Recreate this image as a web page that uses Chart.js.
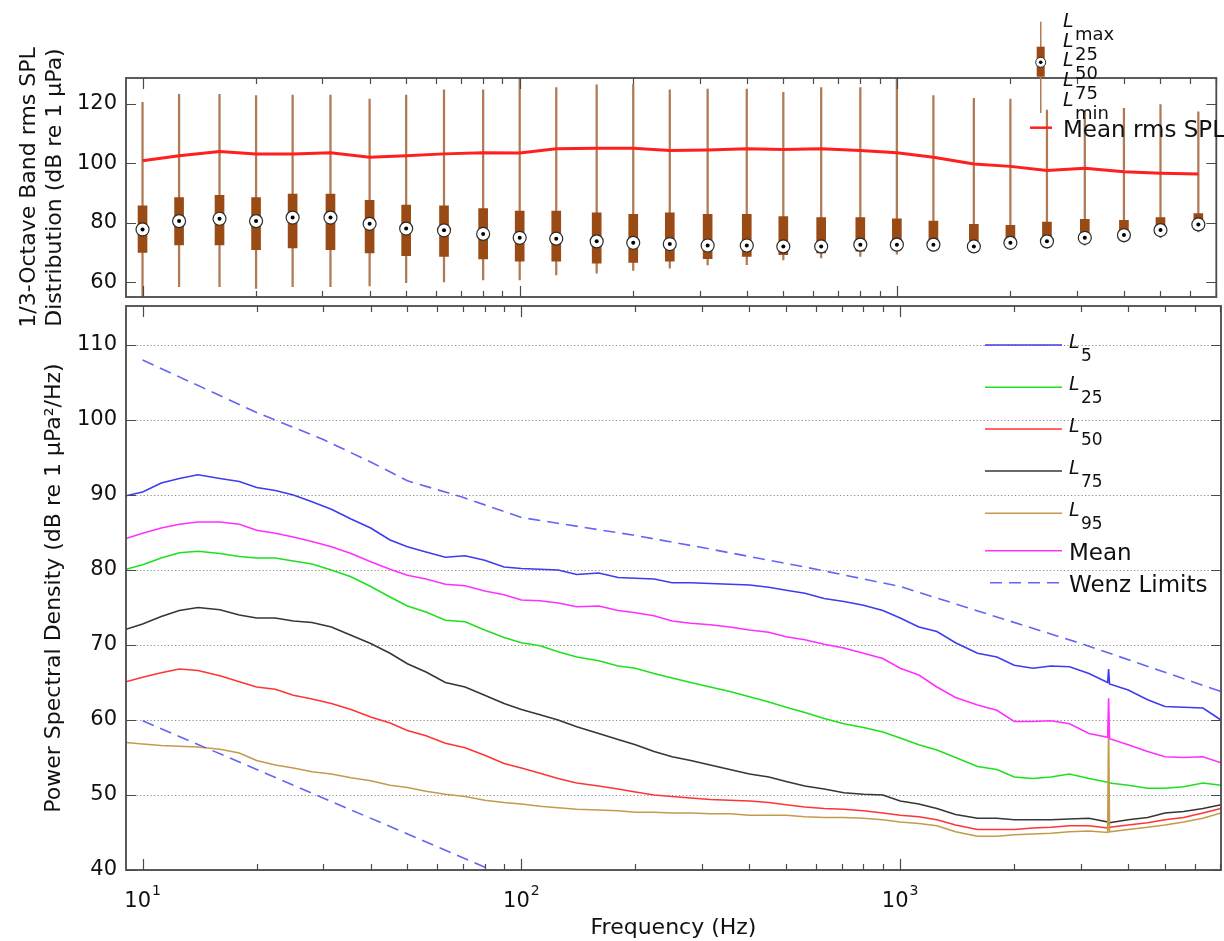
<!DOCTYPE html>
<html>
<head>
<meta charset="utf-8">
<title>Ambient noise statistics</title>
<script src="https://cdn.jsdelivr.net/npm/chart.js@4.4.1/dist/chart.umd.min.js"></script>
<style>
  html, body { margin: 0; padding: 0; background: #fff; }
  #wrap { position: relative; width: 1224px; height: 941px; overflow: hidden; }
  #topBox { position: absolute; left: 0; top: 0; width: 1224px; height: 340px; }
  #bottomBox { position: absolute; left: 0; top: 300px; width: 1224px; height: 641px; }
</style>
</head>
<body>
<div id="wrap">
  <div id="topBox"><canvas id="bandChart"></canvas></div>
  <div id="bottomBox"><canvas id="psdChart"></canvas></div>
</div>
<script>
// ---- 1/3-octave band level distribution (dB re 1 uPa) ----
const bandFreqs = [10, 12.5, 16, 20, 25, 31.5, 40, 50, 63, 80, 100, 125, 160, 200, 250, 315, 400, 500, 630, 800, 1000, 1250, 1600, 2000, 2500, 3150, 4000, 5000, 6300];
const bandMax = [120.5, 123.2, 123.2, 122.8, 123.0, 123.0, 121.6, 123.0, 124.7, 124.7, 130.0, 125.5, 126.4, 126.6, 124.7, 125.0, 125.0, 123.9, 125.5, 125.5, 130.0, 122.8, 121.9, 121.6, 117.9, 117.7, 118.5, 119.8, 117.3];
const bandL25 = [85.7, 88.5, 89.3, 88.5, 89.7, 89.7, 87.6, 86.0, 85.7, 84.8, 84.0, 84.0, 83.4, 82.9, 83.4, 82.9, 82.9, 82.1, 81.8, 81.8, 81.4, 80.6, 79.5, 79.2, 80.3, 81.2, 80.9, 81.8, 83.1];
const bandL50 = [77.8, 80.6, 81.4, 80.6, 81.8, 81.8, 79.7, 78.1, 77.5, 76.3, 75.0, 74.7, 73.8, 73.3, 72.9, 72.4, 72.4, 72.1, 72.1, 72.7, 72.7, 72.7, 72.1, 73.3, 73.8, 75.0, 75.9, 77.6, 79.5];
const bandL75 = [70.1, 72.6, 72.6, 71.0, 71.6, 71.0, 69.9, 69.0, 68.7, 67.9, 67.1, 67.1, 66.5, 66.7, 67.1, 68.0, 68.7, 69.3, 69.9, 70.5, 71.5, 71.5, 71.0, 72.3, 72.8, 74.0, 74.9, 76.6, 78.5];
const bandMin = [54.0, 58.6, 58.6, 58.0, 58.6, 58.6, 58.8, 59.9, 60.2, 60.8, 60.8, 62.5, 63.1, 64.0, 64.8, 65.9, 66.0, 67.6, 68.2, 68.7, 69.5, 70.4, 70.0, 71.0, 71.5, 72.5, 73.5, 75.0, 77.0];
const bandMeanRms = [100.9, 102.6, 104.0, 103.2, 103.2, 103.6, 102.1, 102.6, 103.2, 103.6, 103.5, 104.9, 105.1, 105.1, 104.3, 104.5, 104.9, 104.7, 104.9, 104.3, 103.6, 102.1, 99.8, 99.0, 97.6, 98.4, 97.2, 96.7, 96.4];

// ---- power spectral density percentiles (dB re 1 uPa^2/Hz) ----
const psdFreqs = [9.04, 10, 11.2, 12.5, 14, 16, 18, 20, 22.4, 25, 28, 31.5, 35.5, 40, 45, 50, 56, 63, 71, 80, 90, 100, 112, 125, 140, 160, 180, 200, 224, 250, 280, 315, 355, 400, 450, 500, 560, 630, 710, 800, 900, 1000, 1120, 1250, 1400, 1600, 1800, 2000, 2240, 2500, 2800, 3150, 3530, 3550, 3570, 4000, 4500, 5000, 5600, 6300, 7030];
const psdL5 = [89.9, 90.4, 91.6, 92.2, 92.7, 92.2, 91.8, 91.0, 90.6, 90.0, 89.1, 88.1, 86.8, 85.6, 84.0, 83.1, 82.4, 81.7, 81.9, 81.3, 80.4, 80.2, 80.1, 80.0, 79.4, 79.6, 79.0, 78.9, 78.8, 78.3, 78.3, 78.2, 78.1, 78.0, 77.7, 77.3, 76.9, 76.2, 75.8, 75.3, 74.6, 73.6, 72.4, 71.8, 70.3, 68.9, 68.4, 67.3, 66.9, 67.2, 67.1, 66.2, 65.0, 66.8, 64.8, 64.0, 62.7, 61.8, 61.7, 61.6, 60.0];
const psdL25 = [80.1, 80.7, 81.6, 82.3, 82.5, 82.2, 81.8, 81.6, 81.6, 81.2, 80.8, 80.0, 79.1, 77.8, 76.4, 75.2, 74.4, 73.3, 73.1, 72.0, 71.0, 70.3, 69.9, 69.1, 68.4, 67.9, 67.2, 66.9, 66.2, 65.6, 65.0, 64.4, 63.8, 63.1, 62.4, 61.7, 61.0, 60.2, 59.5, 59.0, 58.4, 57.6, 56.7, 56.0, 55.0, 53.8, 53.4, 52.4, 52.2, 52.4, 52.8, 52.2, 51.7, 51.6, 51.6, 51.3, 50.9, 50.9, 51.1, 51.6, 51.3];
const psdL50 = [65.1, 65.7, 66.3, 66.8, 66.6, 65.9, 65.1, 64.4, 64.1, 63.3, 62.8, 62.2, 61.4, 60.4, 59.6, 58.6, 57.9, 56.9, 56.3, 55.3, 54.2, 53.6, 52.9, 52.2, 51.6, 51.2, 50.8, 50.4, 50.0, 49.8, 49.6, 49.4, 49.3, 49.2, 49.0, 48.7, 48.4, 48.2, 48.1, 47.9, 47.6, 47.3, 47.1, 46.7, 46.0, 45.4, 45.4, 45.4, 45.6, 45.7, 45.9, 45.9, 45.6, 45.6, 45.7, 46.0, 46.3, 46.7, 47.0, 47.6, 48.2];
const psdL75 = [72.1, 72.8, 73.8, 74.6, 75.0, 74.7, 74.0, 73.6, 73.6, 73.2, 73.0, 72.4, 71.3, 70.2, 68.9, 67.5, 66.4, 65.0, 64.4, 63.3, 62.2, 61.4, 60.7, 60.0, 59.1, 58.2, 57.4, 56.7, 55.8, 55.1, 54.6, 54.0, 53.4, 52.8, 52.4, 51.8, 51.2, 50.8, 50.3, 50.1, 50.0, 49.2, 48.8, 48.2, 47.4, 46.9, 46.9, 46.7, 46.7, 46.7, 46.8, 46.9, 46.4, 46.2, 46.3, 46.7, 47.0, 47.6, 47.8, 48.2, 48.7];
const psdL95 = [57.0, 56.8, 56.6, 56.5, 56.4, 56.1, 55.6, 54.6, 54.0, 53.6, 53.1, 52.8, 52.3, 51.9, 51.3, 51.0, 50.5, 50.1, 49.8, 49.3, 49.0, 48.8, 48.5, 48.3, 48.1, 48.0, 47.9, 47.7, 47.7, 47.6, 47.6, 47.5, 47.5, 47.3, 47.3, 47.3, 47.1, 47.0, 47.0, 46.9, 46.7, 46.4, 46.2, 45.9, 45.1, 44.5, 44.5, 44.7, 44.8, 44.9, 45.1, 45.2, 45.0, 59.4, 45.1, 45.4, 45.7, 46.0, 46.4, 46.9, 47.6];
const psdMean = [84.2, 84.9, 85.6, 86.1, 86.4, 86.4, 86.1, 85.3, 84.9, 84.4, 83.8, 83.1, 82.2, 81.1, 80.1, 79.3, 78.8, 78.1, 77.9, 77.2, 76.7, 76.0, 75.9, 75.6, 75.1, 75.2, 74.6, 74.3, 73.9, 73.2, 72.9, 72.7, 72.4, 72.0, 71.7, 71.1, 70.7, 70.1, 69.6, 68.9, 68.2, 66.9, 66.0, 64.4, 63.0, 62.0, 61.3, 59.8, 59.8, 59.9, 59.5, 58.2, 57.7, 62.9, 57.5, 56.7, 55.8, 55.1, 55.0, 55.1, 54.3];

// Wenz curves (upper and lower limits of prevailing noise)
const wenzUpperFreqs = [10, 20, 30, 40, 50, 70, 100, 200, 300, 600, 1000, 1500, 3000, 7030];
const wenzUpper = [108.0, 101.0, 97.4, 94.4, 91.9, 89.7, 87.0, 84.6, 83.0, 80.1, 77.8, 75.0, 70.2, 63.8];
const wenzLowerFreqs = [10, 100];
const wenzLower = [59.9, 38.3];

// axes
const freqMin = 9.04, freqMax = 7030;
const xTickValues = [10, 100, 1000];
const xTickExps = ['1', '2', '3'];
const bandYTicks = [60, 80, 100, 120];
const psdYTicks = [40, 50, 60, 70, 80, 90, 100, 110];

const FONT = '"DejaVu Sans", "Liberation Sans", sans-serif';
const AXIS_COLOR = '#4a4a4a';
Chart.defaults.font.family = FONT;
Chart.defaults.color = '#111';

const pts = (xs, ys) => xs.map((x, i) => ({x: x, y: ys[i]}));

function minorFreqs() {
  const out = [];
  [1, 10, 100, 1000].forEach(d => {
    for (let m = 2; m <= 9; m++) {
      const f = m * d;
      if (f > freqMin && f < freqMax) out.push(f);
    }
  });
  return out;
}

// keep the plot box fixed: no extra room for half tick labels
function fixWidth(w) {
  return s => { s.width = w; s.paddingTop = 0; s.paddingBottom = 0; };
}

// box frame + inward ticks, matlab style
const axesFrame = {
  id: 'axesFrame',
  afterDatasetsDraw(chart, args, opts) {
    const {ctx, chartArea: a} = chart;
    const xs = chart.scales.x, ys = chart.scales.y;
    ctx.save();
    ctx.strokeStyle = AXIS_COLOR;
    ctx.lineWidth = 1.2;
    ctx.beginPath();
    const seg = (x1, y1, x2, y2) => { ctx.moveTo(x1, y1); ctx.lineTo(x2, y2); };
    xTickValues.forEach(v => {
      const px = Math.round(xs.getPixelForValue(v)) + 0.5;
      seg(px, a.bottom, px, a.bottom - 11);
      seg(px, a.top, px, a.top + 11);
    });
    minorFreqs().forEach(v => {
      const px = Math.round(xs.getPixelForValue(v)) + 0.5;
      seg(px, a.bottom, px, a.bottom - 6);
      seg(px, a.top, px, a.top + 6);
    });
    ys.ticks.forEach(t => {
      const py = Math.round(ys.getPixelForValue(t.value)) + 0.5;
      seg(a.left, py, a.left + 10, py);
      seg(a.right, py, a.right - 10, py);
    });
    ctx.stroke();
    ctx.lineWidth = 1.8;
    ctx.strokeRect(a.left, a.top, a.right - a.left, a.bottom - a.top);

    if (opts.labels) {
      ctx.fillStyle = '#111';
      ctx.textBaseline = 'alphabetic';
      ctx.textAlign = 'left';
      xTickValues.forEach((v, i) => {
        const px = xs.getPixelForValue(v);
        ctx.font = '21px ' + FONT;
        const w1 = ctx.measureText('10').width;
        ctx.font = '14px ' + FONT;
        const w2 = ctx.measureText(xTickExps[i]).width;
        const x0 = px - (w1 + w2 + 1) / 2;
        ctx.font = '21px ' + FONT;
        ctx.fillText('10', x0, a.bottom + 37);
        ctx.font = '14px ' + FONT;
        ctx.fillText(xTickExps[i], x0 + w1 + 1, a.bottom + 25);
      });
    }
    ctx.restore();
  }
};

// "L" with a subscript, as in the legends
function drawL(ctx, x, base, sub, subSize) {
  ctx.font = 'italic 19px ' + FONT;
  ctx.fillText('L', x, base);
  ctx.font = subSize + 'px ' + FONT;
  ctx.fillText(sub, x + 12, base + 13);
}

const bandLegend = {
  id: 'bandLegend',
  afterDraw(chart) {
    const ctx = chart.ctx;
    ctx.save();
    // box symbol
    ctx.fillStyle = '#b07a55';
    ctx.fillRect(1040, 21.7, 1.5, 91.3);
    ctx.fillStyle = '#9a4a14';
    ctx.fillRect(1036.7, 46.7, 8, 30);
    ctx.beginPath();
    ctx.arc(1040.7, 62.3, 5, 0, Math.PI * 2);
    ctx.fillStyle = '#fff';
    ctx.fill();
    ctx.strokeStyle = '#2a2a2a';
    ctx.lineWidth = 1;
    ctx.stroke();
    ctx.beginPath();
    ctx.arc(1040.7, 62.3, 1.8, 0, Math.PI * 2);
    ctx.fillStyle = '#000';
    ctx.fill();

    ctx.fillStyle = '#111';
    ctx.textBaseline = 'alphabetic';
    ctx.textAlign = 'left';
    ['max', '25', '50', '75', 'min'].forEach((s, i) => drawL(ctx, 1063, 26.7 + i * 19.8, s, 18));

    ctx.strokeStyle = '#ff1f1f';
    ctx.lineWidth = 2.5;
    ctx.beginPath();
    ctx.moveTo(1030, 127.7);
    ctx.lineTo(1052, 127.7);
    ctx.stroke();
    ctx.font = '23px ' + FONT;
    ctx.fillText('Mean rms SPL', 1063, 137);
    ctx.restore();
  }
};

const psdLegend = {
  id: 'psdLegend',
  afterDraw(chart) {
    const {ctx, chartArea: a} = chart;
    const rows = [39, 81.3, 123, 165, 207.3, 244.7, 276.7];
    const subs = ['5', '25', '50', '75', '95', null, null];
    const names = [null, null, null, null, null, 'Mean', 'Wenz Limits'];
    const x1 = a.right - 236, x2 = a.right - 159, tx = a.right - 152;
    ctx.save();
    ctx.textBaseline = 'alphabetic';
    ctx.textAlign = 'left';
    rows.forEach((dy, i) => {
      const ds = chart.data.datasets[i];
      const y = a.top + dy;
      ctx.strokeStyle = ds.borderColor;
      ctx.lineWidth = ds.borderWidth;
      ctx.setLineDash(ds.borderDash || []);
      ctx.beginPath();
      ctx.moveTo(ds.borderDash ? x1 + 5 : x1, y);
      ctx.lineTo(x2, y);
      ctx.stroke();
      ctx.setLineDash([]);
      ctx.fillStyle = '#111';
      if (subs[i]) {
        drawL(ctx, tx, y + 3, subs[i], 17);
      } else {
        ctx.font = '23px ' + FONT;
        ctx.fillText(names[i], tx, y + 9.5);
      }
    });
    ctx.restore();
  }
};

// ---- top panel: band level box plots ----
new Chart(document.getElementById('bandChart'), {
  type: 'line',
  data: {
    datasets: [
      {
        type: 'bar', label: 'L min - L max',
        data: bandFreqs.map((f, i) => ({x: f, y: [bandMin[i], bandMax[i]]})),
        backgroundColor: '#b07a55', barThickness: 1.6, grouped: false, order: 4
      },
      {
        type: 'bar', label: 'L75 - L25',
        data: bandFreqs.map((f, i) => ({x: f, y: [bandL75[i], bandL25[i]]})),
        backgroundColor: '#9a4a14', barThickness: 9, grouped: false, order: 3
      },
      {
        label: 'Mean rms SPL', data: pts(bandFreqs, bandMeanRms),
        borderColor: '#ff1f1f', borderWidth: 3, pointRadius: 0, tension: 0, order: 2
      },
      {
        label: 'L50', data: pts(bandFreqs, bandL50), showLine: false,
        pointRadius: 6.5, pointBackgroundColor: '#fff', pointBorderColor: '#2a2a2a',
        pointBorderWidth: 1.2, order: 1
      },
      {
        label: 'L50 centre', data: pts(bandFreqs, bandL50), showLine: false,
        pointRadius: 2, pointBackgroundColor: '#000', pointBorderWidth: 0, order: 0
      }
    ]
  },
  options: {
    responsive: true,
    maintainAspectRatio: false,
    animation: false,
    events: [],
    layout: { padding: { top: 78, right: 3, bottom: 43, left: 0 } },
    plugins: { legend: { display: false }, tooltip: { enabled: false } },
    scales: {
      x: {
        type: 'logarithmic', min: freqMin, max: freqMax, display: false,
        offset: false, grid: { offset: false }
      },
      y: {
        min: 55.1, max: 128.7, beginAtZero: false,
        afterFit: fixWidth(126),
        afterBuildTicks: s => { s.ticks = bandYTicks.map(v => ({ value: v })); },
        grid: { display: false, drawTicks: false },
        border: { display: false },
        ticks: { padding: 9, color: '#111', font: { size: 21 } },
        title: {
          display: true,
          text: ['1/3-Octave Band rms SPL', 'Distribution (dB re 1 µPa)'],
          font: { size: 22, lineHeight: 1.15 },
          color: '#111',
          padding: { top: 17, bottom: 0 }
        }
      }
    }
  },
  plugins: [axesFrame, bandLegend]
});

// ---- bottom panel: PSD percentiles ----
new Chart(document.getElementById('psdChart'), {
  type: 'line',
  data: {
    datasets: [
      { label: 'L5', data: pts(psdFreqs, psdL5), borderColor: '#3c3cf0', borderWidth: 1.6, order: 8 },
      { label: 'L25', data: pts(psdFreqs, psdL25), borderColor: '#1fe01f', borderWidth: 1.6, order: 7 },
      { label: 'L50', data: pts(psdFreqs, psdL50), borderColor: '#ff3535', borderWidth: 1.6, order: 6 },
      { label: 'L75', data: pts(psdFreqs, psdL75), borderColor: '#363636', borderWidth: 1.6, order: 5 },
      { label: 'L95', data: pts(psdFreqs, psdL95), borderColor: '#c29b4c', borderWidth: 1.6, order: 4 },
      { label: 'Mean', data: pts(psdFreqs, psdMean), borderColor: '#ff30ff', borderWidth: 1.6, order: 3 },
      { label: 'Wenz Limits', data: pts(wenzUpperFreqs, wenzUpper), borderColor: '#6464f5', borderWidth: 1.6, borderDash: [12, 7], order: 2 },
      { label: 'Wenz lower', data: pts(wenzLowerFreqs, wenzLower), borderColor: '#6464f5', borderWidth: 1.6, borderDash: [12, 7], order: 1 }
    ]
  },
  options: {
    responsive: true,
    maintainAspectRatio: false,
    animation: false,
    events: [],
    elements: { point: { radius: 0 }, line: { tension: 0 } },
    layout: { padding: { top: 6, right: 3, bottom: 0, left: 0 } },
    plugins: { legend: { display: false }, tooltip: { enabled: false }, axesFrame: { labels: true } },
    scales: {
      x: {
        type: 'logarithmic', min: freqMin, max: freqMax, offset: false,
        afterFit: s => { s.height = 71; s.paddingLeft = 0; s.paddingRight = 0; },
        grid: { display: false, drawTicks: false },
        border: { display: false },
        ticks: { display: false },
        title: {
          display: true, text: 'Frequency (Hz)', color: '#111',
          font: { size: 22 }, padding: { top: 0, bottom: 0 }
        }
      },
      y: {
        min: 40, max: 115.2,
        afterFit: fixWidth(126),
        afterBuildTicks: s => { s.ticks = psdYTicks.map(v => ({ value: v })); },
        grid: { display: true, drawTicks: false, color: '#8a8a8a', lineWidth: 1 },
        border: { display: false, dash: [1.2, 2.3] },
        ticks: { padding: 9, color: '#111', font: { size: 21 } },
        title: {
          display: true,
          text: 'Power Spectral Density (dB re 1 µPa²/Hz)',
          font: { size: 22, lineHeight: 1.15 },
          color: '#111',
          padding: { top: 42, bottom: 0 }
        }
      }
    }
  },
  plugins: [axesFrame, psdLegend]
});
</script>
</body>
</html>
